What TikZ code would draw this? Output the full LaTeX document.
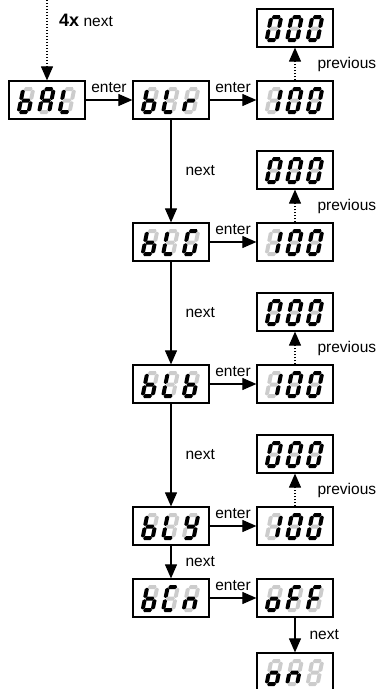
\documentclass[tikz,border=0pt]{standalone}
\usepackage{fontspec}
\setmainfont{Liberation Sans}
\usetikzlibrary{arrows.meta}

\tikzset{
  disp/.style={draw, line width=1.2pt, minimum width=76pt, minimum height=38pt, inner sep=0pt},
  lbl/.style={font=\fontsize{15.5}{18}\selectfont, inner sep=2pt},
  link/.style={line width=1.1pt, -{Triangle[length=14pt,width=12pt]}},
  dots/.style={link, dash pattern=on 1pt off 2pt},
  seg1/.style={fill=black},
  seg0/.style={fill=black!20},
}

% glyphs, segments a b c d e f g
\def\sgb{0011111}
\def\sgA{1110111}
\def\sgL{0001110}
\def\sgr{0000101}
\def\sgone{0110000}
\def\sgzero{1111110}
\def\sgG{1011110}
\def\sgY{0111011}
\def\sgC{1001110}
\def\sgn{0010101}
\def\sgo{0011101}
\def\sgF{1000111}
\def\sgoff{0000000}

% one segment: style, from, to, at
\newcommand{\hseg}[4]{\fill[#1] (#2,#4) -- (#2+1.3,#4+2) -- (#3-1.3,#4+2) -- (#3,#4) -- (#3-1.3,#4-2) -- (#2+1.3,#4-2) -- cycle;}
\newcommand{\vseg}[4]{\fill[#1] (#2,#3) -- (#2+2,#3+1.3) -- (#2+2,#4-1.3) -- (#2,#4) -- (#2-2,#4-1.3) -- (#2-2,#3+1.3) -- cycle;}
\newcommand{\segs}[7]{%
  \hseg{seg#1}{0.6}{9.4}{23}
  \vseg{seg#2}{10}{12.1}{22.4}
  \vseg{seg#3}{10}{0.6}{10.9}
  \hseg{seg#4}{0.6}{9.4}{0}
  \vseg{seg#5}{0}{0.6}{10.9}
  \vseg{seg#6}{0}{12.1}{22.4}
  \hseg{seg#7}{0.6}{9.4}{11.5}}
\newcommand{\dig}[3]{%
  \begin{scope}[shift={(#1.south west)}, shift={(10.2+20.5*#2,7.5)}, xslant=0.2]
    \expandafter\segs#3
  \end{scope}}
\newcommand{\display}[4]{\dig{#1}{0}{#2}\dig{#1}{1}{#3}\dig{#1}{2}{#4}}

\begin{document}
\begin{tikzpicture}[x=1pt,y=1pt]
\useasboundingbox (0,0) rectangle (378,689);
\clip (0,0) rectangle (378,689);

% displays
\node[disp] (bal) at (47,589) {};
\node[disp] (blr) at (171,589) {};
\node[disp] (r100) at (295,589) {};
\node[disp] (r000) at (295,661) {};
\node[disp] (blg) at (171,447) {};
\node[disp] (g100) at (295,447) {};
\node[disp] (g000) at (295,519) {};
\node[disp] (blb) at (171,305) {};
\node[disp] (b100) at (295,305) {};
\node[disp] (b000) at (295,377) {};
\node[disp] (bly) at (171,163) {};
\node[disp] (y100) at (295,163) {};
\node[disp] (y000) at (295,235) {};
\node[disp] (bcn) at (171,91) {};
\node[disp] (off) at (295,91) {};
\node[disp] (on) at (295,17) {};

\display{bal}{\sgb}{\sgA}{\sgL}
\display{blr}{\sgb}{\sgL}{\sgr}
\display{blg}{\sgb}{\sgL}{\sgG}
\display{blb}{\sgb}{\sgL}{\sgb}
\display{bly}{\sgb}{\sgL}{\sgY}
\display{bcn}{\sgb}{\sgC}{\sgn}
\display{off}{\sgo}{\sgF}{\sgF}
\display{on}{\sgo}{\sgn}{\sgoff}
\foreach \n in {r100,g100,b100,y100} {\display{\n}{\sgone}{\sgzero}{\sgzero}}
\foreach \n in {r000,g000,b000,y000} {\display{\n}{\sgzero}{\sgzero}{\sgzero}}

% connectors
\coordinate (top) at (47,692);
\draw[dots] (top) -- (bal);
\node[lbl, anchor=base west] (four) at (57,662) {{\bfseries\fontsize{18}{21}\selectfont 4x} next};

\draw[link] (bal) -- node[lbl, above=5pt] {enter} (blr);
\draw[link] (blr) -- node[lbl, above=5pt] {enter} (r100);
\draw[dots] (r100) -- node[lbl, right=20pt] {previous} (r000);
\draw[link] (blr) -- node[lbl, right=12pt] {next} (blg);

\draw[link] (blg) -- node[lbl, above=5pt] {enter} (g100);
\draw[dots] (g100) -- node[lbl, right=20pt] {previous} (g000);
\draw[link] (blg) -- node[lbl, right=12pt] {next} (blb);

\draw[link] (blb) -- node[lbl, above=5pt] {enter} (b100);
\draw[dots] (b100) -- node[lbl, right=20pt] {previous} (b000);
\draw[link] (blb) -- node[lbl, right=12pt] {next} (bly);

\draw[link] (bly) -- node[lbl, above=5pt] {enter} (y100);
\draw[dots] (y100) -- node[lbl, right=20pt] {previous} (y000);
\draw[link] (bly) -- node[lbl, right=12pt] {next} (bcn);

\draw[link] (bcn) -- node[lbl, above=5pt] {enter} (off);
\draw[link] (off) -- node[lbl, right=12pt] {next} (on);
\end{tikzpicture}
\end{document}
